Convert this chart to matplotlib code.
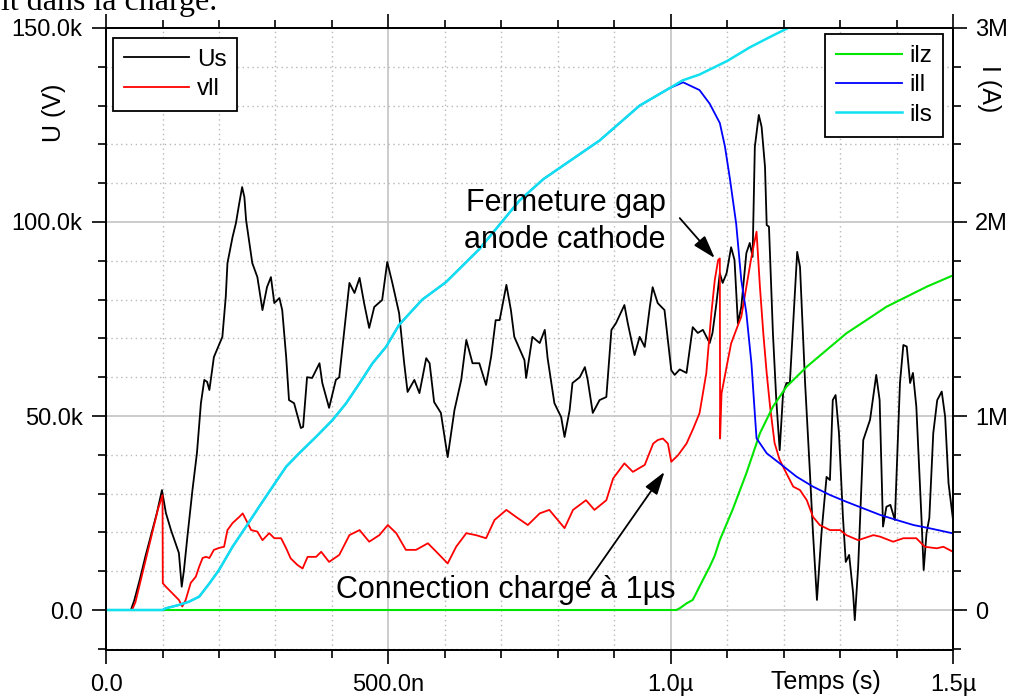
import numpy as np
import matplotlib
matplotlib.use('Agg')
import matplotlib.pyplot as plt
from matplotlib.ticker import MultipleLocator, FuncFormatter

plt.rcParams['font.family'] = ['Liberation Sans', 'DejaVu Sans']

# temps en ns, tensions en kV
us = [(0, 0), (44, 0), (50, 2.5), (60, 8), (70, 14), (80, 19.5), (90, 25), (99, 30.9), (106, 25), (115, 20.6),
      (129, 14.7), (134, 6), (138, 10.3), (144, 18.8), (153, 30.9), (161, 40.5), (168, 53.3), (174, 59.3),
      (179, 58.8), (183, 56.7), (191, 65.2), (206, 70.4), (212, 80.7), (215, 89.4), (224, 96.1), (230, 99.7),
      (236, 104.9), (241, 109), (245, 106.4), (248, 100.5), (259, 89.4), (268, 85.8), (277, 77.3), (285, 83.2),
      (292, 85.8), (298, 79.1), (307, 80.4), (312, 77.3), (319, 65.2), (324, 54.1), (333, 53.3), (345, 46.9),
      (349, 47.2), (356, 60), (365, 59.8), (378, 63.6), (383, 58.5), (395, 52.1), (407, 59.3), (413, 60),
      (422, 72.2), (431, 84.3), (440, 81.7), (449, 85.6), (457, 79.1), (466, 72.7), (475, 78.1), (489, 79.9),
      (498, 89.7), (507, 84.3), (519, 76.5), (528, 63.6), (534, 56.2), (546, 59.3), (555, 55.9), (567, 64.9),
      (573, 63.6), (581, 53.6), (593, 50.8), (605, 39.4), (617, 51.5), (629, 59.3), (638, 69.6), (649, 63.6),
      (661, 63.6), (673, 58), (682, 65.3), (690, 74.7), (697, 74.7), (709, 83.8), (717, 77.3), (723, 70.4),
      (741, 64.4), (744, 59.8), (755, 70.4), (768, 68.8), (777, 72.2), (782, 64.9), (794, 53.3), (806, 49.7),
      (812, 44.6), (821, 51.5), (826, 58.5), (839, 60), (848, 62.6), (853, 59.3), (862, 50.8), (874, 54.1),
      (886, 54.9), (895, 72.2), (903, 73.9), (918, 78.6), (924, 73.9), (936, 65.7), (945, 70.4), (954, 67.8),
      (963, 78.1), (968, 83.2), (977, 79.1), (989, 77.3), (1001, 61.8), (1007, 60.6), (1016, 62), (1028, 61.1),
      (1039, 72.9), (1048, 71.4), (1057, 72.2), (1069, 68.8), (1074, 71.4), (1081, 79.1), (1087, 86.8),
      (1092, 84.3), (1099, 86.8), (1107, 93.5), (1113, 90.2), (1119, 73.9), (1125, 78.1), (1134, 92),
      (1140, 94.6), (1145, 91), (1149, 119.4), (1156, 127.6), (1161, 124.5), (1167, 114.2), (1170, 99.2),
      (1174, 98.8), (1181, 71.4), (1187, 54.1), (1193, 41.2), (1199, 55.9), (1205, 58.5), (1211, 58.5),
      (1216, 71.4), (1224, 92.3), (1229, 88.4), (1238, 58.5), (1246, 36.9), (1252, 19.8), (1259, 2.6),
      (1267, 19.8), (1276, 34.3), (1282, 33.5), (1287, 54.1), (1292, 55.4), (1298, 45.6), (1305, 24),
      (1310, 12.4), (1316, 14.2), (1323, 4.4), (1326, -2.6), (1332, 11.2), (1341, 43.8), (1353, 49),
      (1364, 60.6), (1370, 54.1), (1376, 21.5), (1382, 26.6), (1389, 27.1), (1397, 23.2), (1406, 58.5),
      (1412, 68.3), (1418, 67.9), (1424, 58.5), (1429, 61.1), (1435, 52.4), (1444, 24), (1448, 10.3),
      (1453, 19.8), (1458, 23.7), (1465, 45.6), (1472, 54.1), (1480, 56.3), (1486, 49.8), (1492, 32.7),
      (1500, 23.2)]

vll = [(0, 0), (46, 0), (52, 2), (62, 8), (72, 14), (82, 20), (92, 26), (100, 29.6), (100.5, 6.9), (106, 6),
       (129, 2.6), (135, 0.9), (141, 2.6), (150, 7), (159, 8.6), (165, 11.2), (171, 13.4), (177, 13.7),
       (183, 13.4), (191, 15.5), (200, 16), (209, 16.3), (215, 20.6), (224, 22.4), (236, 24), (242, 24.9),
       (248, 23.2), (257, 20.6), (268, 20.2), (277, 18), (289, 19.8), (298, 18.5), (310, 18.5), (319, 15.9),
       (327, 13.3), (339, 11.6), (348, 10.7), (357, 13.7), (372, 13.7), (381, 15), (395, 12.4), (413, 14.2),
       (431, 19.3), (449, 20.6), (466, 17.6), (484, 19.3), (499, 21.9), (514, 19.8), (531, 15.5), (549, 15.5),
       (570, 17.2), (585, 15), (605, 12), (620, 16.3), (638, 19.8), (655, 19.3), (673, 18.5), (688, 23.2),
       (709, 25.8), (726, 24), (747, 21.9), (768, 24.9), (785, 25.8), (812, 21.1), (827, 25.8), (850, 28.3),
       (865, 25.8), (886, 28.3), (898, 33.9), (918, 37.8), (933, 35.6), (954, 37.4), (969, 42.9), (977, 43.8),
       (986, 44.2), (995, 42.9), (1001, 38.2), (1013, 39.9), (1028, 42.9), (1040, 46.8), (1051, 50.7),
       (1063, 61), (1072, 76.5), (1078, 85), (1084, 90.2), (1087, 90.6), (1087.5, 44.2), (1090, 55.8),
       (1099, 62.7), (1107, 68.7), (1116, 72.2), (1125, 75.6), (1134, 83.3), (1143, 91), (1152, 97.5),
       (1158, 83.3), (1164, 71.3), (1170, 61), (1176, 52.4), (1184, 43), (1193, 38.7), (1205, 35.2),
       (1217, 31.8), (1229, 30.9), (1241, 28.3), (1252, 24), (1264, 21.9), (1282, 20.6), (1300, 20.6),
       (1311, 19.3), (1332, 18), (1359, 19.3), (1371, 18.9), (1394, 17.6), (1412, 18.5), (1435, 18.5),
       (1450, 16.3), (1471, 15.9), (1483, 16.3), (1500, 15)]

# courants en MA
ils = [(0, 0), (100, 0), (106, 0.009), (129, 0.026), (147, 0.043), (165, 0.069), (183, 0.137), (200, 0.206),
       (224, 0.326), (248, 0.43), (271, 0.532), (295, 0.636), (319, 0.739), (342, 0.808), (372, 0.893),
       (401, 0.979), (425, 1.065), (449, 1.169), (472, 1.272), (496, 1.357), (519, 1.47), (560, 1.60),
       (602, 1.69), (661, 1.86), (732, 2.11), (774, 2.22), (874, 2.42), (945, 2.60), (998, 2.69),
       (1021, 2.73), (1051, 2.76), (1100, 2.83), (1140, 2.90), (1180, 2.96), (1215, 3.01)]

ill_fall = [(1022, 2.72), (1051, 2.68), (1069, 2.61), (1087, 2.51), (1096, 2.39), (1105, 2.22), (1116, 1.99),
            (1125, 1.70), (1134, 1.53), (1143, 1.27), (1149, 1.01), (1152, 0.885), (1170, 0.808), (1193, 0.756),
            (1223, 0.687), (1252, 0.636), (1282, 0.593), (1311, 0.558), (1341, 0.524), (1371, 0.49),
            (1400, 0.464), (1430, 0.438), (1459, 0.421), (1500, 0.395)]

ilz = [(0, 0), (1010, 0), (1016, 0.009), (1028, 0.034), (1039, 0.052), (1045, 0.086), (1057, 0.155),
       (1063, 0.189), (1069, 0.223), (1078, 0.28), (1087, 0.361), (1110, 0.52), (1134, 0.705), (1158, 0.911),
       (1181, 1.048), (1205, 1.151), (1241, 1.254), (1276, 1.34), (1311, 1.426), (1347, 1.495), (1382, 1.563),
       (1418, 1.615), (1453, 1.666), (1500, 1.725)]

ill = [p for p in ils if p[0] <= 998] + ill_fall


def t_fmt(v, pos):
    if abs(v) < 1e-6:
        return '0.0'
    if v < 1000:
        return '%.1fn' % v
    return '%.1fµ' % (v / 1000)


def u_fmt(v, pos):
    if abs(v) < 1e-6:
        return '0.0'
    return '%.1fk' % v


def i_fmt(v, pos):
    if abs(v) < 1e-6:
        return '0'
    return '%dM' % round(v)


fig = plt.figure(figsize=(10.1, 6.98), dpi=100)
ax = fig.add_axes([0.105, 0.0688, 0.8386, 0.8911])
ax2 = ax.twinx()

us_a = np.array(us)
vll_a = np.array(vll)
l_us, = ax.plot(us_a[:, 0], us_a[:, 1], color='black', lw=1.3, label='Us')
l_vll, = ax.plot(vll_a[:, 0], vll_a[:, 1], color='#ff0000', lw=1.3, label='vll')

ilz_a = np.array(ilz)
ill_a = np.array(ill)
ils_a = np.array(ils)
l_ilz, = ax2.plot(ilz_a[:, 0], ilz_a[:, 1], color='#00e600', lw=1.5, label='ilz')
l_ill, = ax2.plot(ill_a[:, 0], ill_a[:, 1], color='#0000ff', lw=1.3, label='ill')
l_ils, = ax2.plot(ils_a[:, 0], ils_a[:, 1], color='#10e0f0', lw=1.8, label='ils')

ax.set_xlim(0, 1500)
ax.set_ylim(-10.3, 150)
ax2.set_ylim(-0.206, 3.0)

ax.xaxis.set_major_locator(MultipleLocator(500))
ax.xaxis.set_minor_locator(MultipleLocator(100))
ax.yaxis.set_major_locator(MultipleLocator(50))
ax.yaxis.set_minor_locator(MultipleLocator(10))
ax2.yaxis.set_major_locator(MultipleLocator(1))
ax2.yaxis.set_minor_locator(MultipleLocator(0.2))
ax.xaxis.set_major_formatter(FuncFormatter(t_fmt))
ax.yaxis.set_major_formatter(FuncFormatter(u_fmt))
ax2.yaxis.set_major_formatter(FuncFormatter(i_fmt))

ax.grid(which='major', color='#c8c8c8', lw=1.3, ls='-')
ax.grid(which='minor', color='#b8b8b8', lw=1.0, ls=(0, (1, 2.5)))
ax.set_axisbelow(True)

ax.tick_params(which='both', direction='out', top=True, width=1.2, labelsize=17)
ax.tick_params(which='major', length=10)
ax.tick_params(which='minor', length=5.5)
ax.tick_params(axis='x', pad=7)
ax.tick_params(axis='y', pad=7)
ax2.tick_params(which='both', direction='out', width=1.2, labelsize=17, pad=6)
ax2.tick_params(which='major', length=10)
ax2.tick_params(which='minor', length=5.5)
for a in (ax, ax2):
    for s in a.spines.values():
        s.set_linewidth(1.3)

ax.set_xlabel('Temps (s)', fontsize=18)
ax.xaxis.set_label_coords(0.85, -0.0627)
ax.xaxis.label.set_va('baseline')
ax.set_ylabel('U (V)', fontsize=18)
ax.yaxis.set_label_coords(-0.0615, 0.863)
ax.yaxis.label.set_va('center')
ax2.set_ylabel('I (A)', fontsize=18, rotation=270)
ax2.yaxis.set_label_coords(1.0426, 0.902)
ax2.yaxis.label.set_va('center')

leg_kw = dict(fontsize=17.5, frameon=True, fancybox=False, framealpha=1, edgecolor='black',
              handlelength=2.7, handletextpad=0.3, labelspacing=0.3, borderpad=0.45, borderaxespad=0)
leg1 = ax.legend(handles=[l_us, l_vll], loc='upper left', bbox_to_anchor=(0.008, 0.984), **leg_kw)
leg1.get_frame().set_linewidth(1.3)
leg2 = ax2.legend(handles=[l_ilz, l_ill, l_ils], loc='upper right', bbox_to_anchor=(0.988, 0.99), **leg_kw)
leg2.get_frame().set_linewidth(1.3)

# annotations (coordonnées de l'axe gauche)
ax2.text(814, 102.9, 'Fermeture gap', transform=ax.transData, fontsize=22, ha='center', va='baseline')
ax2.text(813, 93.3, 'anode cathode', transform=ax.transData, fontsize=22, ha='center', va='baseline')
ax2.text(707, 3.1, 'Connection charge à 1µs', transform=ax.transData, fontsize=22, ha='center', va='baseline')
arrow = dict(arrowstyle='-|>,head_length=0.7,head_width=0.22', color='black', lw=1.3,
             shrinkA=0, shrinkB=0, mutation_scale=20)
ax2.annotate('', xy=(1078, 90.7), xytext=(1016, 101), xycoords=ax.transData,
             textcoords=ax.transData, arrowprops=arrow)
ax2.annotate('', xy=(989, 35.6), xytext=(853, 7.3), xycoords=ax.transData,
             textcoords=ax.transData, arrowprops=arrow)

fig.text(0.001, 1 - 10 / 698, 'it dans la charge.', family=['Liberation Serif', 'DejaVu Serif'],
         fontsize=23, va='baseline', ha='left')

fig.savefig('out.png', dpi=100)
